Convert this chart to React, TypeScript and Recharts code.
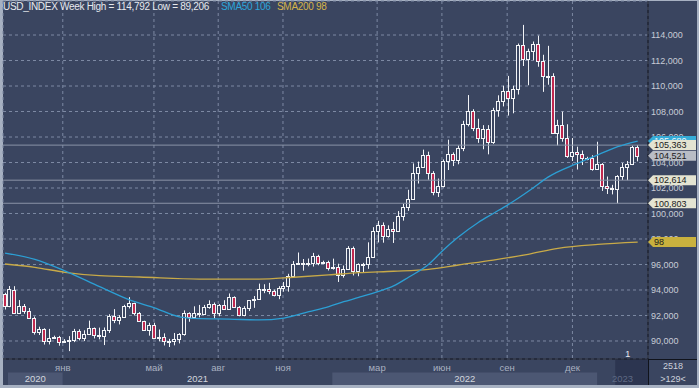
import React from 'react';
import {
  ComposedChart,
  Bar,
  Line,
  XAxis,
  YAxis,
  CartesianGrid,
  ReferenceLine,
  ReferenceArea,
  ReferenceDot,
} from 'recharts';

// ---------- DATA ----------
const barDates = [
  '2020-10-19', '2020-10-26', '2020-11-02', '2020-11-09', '2020-11-16', '2020-11-23', '2020-11-30', '2020-12-07', '2020-12-14', '2020-12-21',
  '2020-12-27', '2020-12-28', '2021-01-03', '2021-01-04', '2021-01-11', '2021-01-18', '2021-01-25', '2021-02-01', '2021-02-08', '2021-02-15',
  '2021-02-22', '2021-03-01', '2021-03-08', '2021-03-15', '2021-03-22', '2021-03-29', '2021-04-05', '2021-04-12', '2021-04-19', '2021-04-26',
  '2021-05-03', '2021-05-10', '2021-05-17', '2021-05-24', '2021-05-31', '2021-06-07', '2021-06-14', '2021-06-21', '2021-06-28', '2021-07-05',
  '2021-07-12', '2021-07-19', '2021-07-26', '2021-08-02', '2021-08-09', '2021-08-16', '2021-08-23', '2021-08-30', '2021-09-06', '2021-09-13',
  '2021-09-20', '2021-09-27', '2021-10-04', '2021-10-11', '2021-10-18', '2021-10-25', '2021-11-01', '2021-11-08', '2021-11-15', '2021-11-22',
  '2021-11-29', '2021-12-06', '2021-12-13', '2021-12-20', '2021-12-26', '2021-12-27', '2022-01-03', '2022-01-10', '2022-01-17', '2022-01-24',
  '2022-01-31', '2022-02-07', '2022-02-14', '2022-02-21', '2022-02-28', '2022-03-07', '2022-03-14', '2022-03-21', '2022-03-28', '2022-04-04',
  '2022-04-11', '2022-04-18', '2022-04-25', '2022-05-02', '2022-05-09', '2022-05-16', '2022-05-23', '2022-05-30', '2022-06-06', '2022-06-13',
  '2022-06-20', '2022-06-27', '2022-07-04', '2022-07-11', '2022-07-18', '2022-07-25', '2022-08-01', '2022-08-08', '2022-08-15', '2022-08-22',
  '2022-08-29', '2022-09-05', '2022-09-12', '2022-09-19', '2022-09-26', '2022-10-03', '2022-10-10', '2022-10-17', '2022-10-24', '2022-10-31',
  '2022-11-07', '2022-11-14', '2022-11-21', '2022-11-28', '2022-12-05', '2022-12-12', '2022-12-19', '2022-12-25', '2022-12-26', '2023-01-02',
  '2023-01-09', '2023-01-16', '2023-01-23', '2023-01-30', '2023-02-06', '2023-02-13', '2023-02-20', '2023-02-27',
];

const barOpen = [
  93.69, 92.77, 94.03, 92.23, 92.76, 92.39, 91.79, 90.70, 90.98, 90.02,
  90.26, 90.31, 89.94, 90.02, 90.10, 90.77, 90.24, 90.58, 91.04, 90.48,
  90.36, 90.88, 91.98, 91.67, 91.92, 92.77, 92.97, 92.17, 91.56, 90.86,
  91.28, 90.23, 90.32, 89.99, 90.03, 90.14, 90.56, 92.23, 91.85, 92.23,
  92.13, 92.69, 92.90, 92.17, 92.80, 92.52, 93.47, 92.67, 92.03, 92.58,
  93.20, 93.30, 94.04, 94.08, 93.96, 93.60, 94.12, 94.32, 95.12, 96.03,
  96.09, 96.15, 96.10, 96.70, 96.15, 96.22, 95.72, 95.80, 95.17, 95.64,
  97.27, 95.47, 96.07, 96.04, 96.62, 98.66, 99.12, 98.24, 98.79, 98.62,
  99.81, 100.52, 101.12, 103.18, 103.66, 104.55, 103.17, 101.67, 102.15, 104.15,
  104.68, 104.21, 105.13, 107.03, 108.07, 106.73, 105.90, 106.61, 105.64, 108.15,
  108.80, 109.62, 109.02, 109.76, 113.19, 112.12, 112.77, 113.31, 111.98, 110.76,
  110.79, 106.29, 106.92, 105.94, 104.52, 104.84, 104.70, 104.32, 104.36, 103.52,
  103.89, 102.19, 102.01, 101.92, 102.92, 103.63, 103.87, 105.21,
];

const barHigh = [
  93.78, 94.31, 94.30, 93.21, 92.90, 92.59, 91.92, 91.12, 91.00, 90.95,
  90.42, 90.40, 90.15, 90.38, 90.95, 90.92, 90.84, 91.60, 91.06, 91.05,
  91.06, 92.10, 92.50, 92.03, 92.84, 93.44, 93.00, 92.27, 91.59, 91.43,
  91.43, 90.90, 90.60, 90.17, 90.63, 90.62, 92.40, 92.25, 92.72, 92.83,
  92.83, 93.19, 93.02, 92.90, 93.20, 93.73, 93.50, 92.74, 92.73, 93.20,
  93.53, 94.50, 94.45, 94.56, 94.03, 94.30, 94.63, 95.27, 96.27, 96.94,
  96.43, 96.47, 96.91, 96.76, 96.30, 96.30, 96.46, 96.06, 95.92, 97.44,
  97.41, 96.09, 96.13, 97.74, 98.93, 99.42, 99.30, 99.07, 99.34, 100.19,
  100.77, 101.86, 103.93, 104.07, 105.01, 104.85, 103.32, 102.74, 104.24, 105.79,
  104.79, 105.34, 107.27, 109.29, 108.18, 107.43, 106.93, 106.93, 108.29, 109.27,
  110.02, 110.79, 110.02, 113.33, 114.792, 112.93, 113.49, 113.95, 112.45, 113.15,
  111.00, 107.35, 107.99, 107.00, 105.92, 105.24, 104.94, 104.45, 104.57, 105.63,
  103.95, 102.90, 102.25, 103.01, 103.96, 104.12, 105.32, 105.363,
];

const barLow = [
  92.47, 92.65, 92.13, 92.13, 92.13, 91.74, 90.50, 90.47, 89.72, 89.73,
  90.20, 89.63, 89.88, 89.206, 89.91, 90.05, 89.99, 90.50, 90.20, 90.13,
  89.68, 90.63, 91.40, 91.30, 91.82, 92.55, 92.00, 91.51, 90.79, 90.42,
  90.22, 89.98, 89.65, 89.53, 89.66, 89.81, 90.42, 91.51, 91.80, 91.86,
  92.07, 92.53, 91.78, 91.94, 92.47, 92.45, 92.63, 91.94, 91.94, 92.35,
  92.60, 93.22, 93.75, 93.67, 93.50, 93.28, 93.87, 93.87, 95.00, 96.00,
  95.52, 95.86, 95.84, 95.94, 96.05, 95.53, 95.60, 94.63, 94.97, 95.60,
  95.14, 95.08, 95.41, 95.66, 96.57, 97.73, 97.71, 98.11, 97.69, 98.60,
  99.44, 100.21, 101.09, 102.35, 103.60, 102.65, 101.43, 101.30, 102.05, 103.41,
  103.72, 103.86, 104.89, 106.83, 106.46, 105.54, 105.04, 104.64, 105.46, 107.59,
  108.40, 107.68, 107.86, 109.33, 111.57, 110.06, 112.03, 111.51, 109.54, 110.10,
  106.27, 105.34, 105.63, 104.37, 104.12, 103.45, 103.80, 104.18, 103.36, 103.42,
  101.77, 101.53, 101.50, 100.803, 102.63, 102.614, 103.80, 104.09,
];

const barClose = [
  92.77, 94.04, 92.23, 92.76, 92.39, 91.79, 90.70, 90.98, 90.02, 90.26,
  90.31, 89.94, 90.02, 90.10, 90.77, 90.24, 90.58, 91.04, 90.48, 90.36,
  90.88, 91.98, 91.67, 91.92, 92.77, 92.97, 92.17, 91.56, 90.86, 91.28,
  90.23, 90.32, 89.99, 90.03, 90.14, 90.56, 92.23, 91.85, 92.23, 92.13,
  92.69, 92.90, 92.17, 92.80, 92.52, 93.47, 92.67, 92.03, 92.58, 93.20,
  93.30, 94.04, 94.08, 93.96, 93.60, 94.12, 94.32, 95.12, 96.03, 96.09,
  96.15, 96.10, 96.70, 96.15, 96.22, 95.72, 95.80, 95.17, 95.64, 97.27,
  95.47, 96.07, 96.04, 96.62, 98.66, 99.12, 98.24, 98.79, 98.62, 99.81,
  100.52, 101.12, 103.18, 103.66, 104.55, 103.17, 101.67, 102.15, 104.15, 104.68,
  104.21, 105.13, 107.03, 108.07, 106.73, 105.90, 106.61, 105.64, 108.15, 108.80,
  109.62, 109.02, 109.76, 113.19, 112.12, 112.77, 113.31, 111.98, 110.76, 110.79,
  106.29, 106.92, 105.94, 104.52, 104.84, 104.70, 104.32, 104.36, 103.52, 103.89,
  102.19, 102.01, 101.92, 102.92, 103.63, 103.87, 105.21, 104.521,
];

// moving averages at sample bars
const sma50Index = [0, 6, 12, 19, 25, 30, 35, 39, 45, 51, 56, 61, 65, 68, 71, 75, 78, 81, 85, 88, 91, 95, 98, 101, 103, 106, 109, 115, 119, 123, 127];
const sma50Value = [96.9, 96.4, 95.5, 94.26, 93.22, 92.6, 91.9, 91.75, 91.72, 91.65, 91.8, 92.3, 92.7, 93.08, 93.42, 93.9, 94.32, 95.0, 96.0, 97.14, 98.15, 99.3, 100.0, 100.7, 101.2, 102.0, 102.85, 103.95, 104.6, 105.24, 105.68];

const sma200Index = [0, 6, 12, 19, 27, 39, 51, 58, 65, 71, 78, 85, 91, 98, 105, 111, 119, 127];
const sma200Value = [96.04, 95.78, 95.39, 95.12, 95.02, 94.86, 94.85, 95.0, 95.18, 95.36, 95.47, 95.62, 95.96, 96.35, 96.8, 97.27, 97.58, 97.76];

const monthTickPos = [11.6, 29.9, 42.8, 55.8, 74.7, 87.7, 100.8, 113.9];
const monthTickLabel = ['янв', 'май', 'авг', 'ноя', 'мар', 'июн', 'сен', 'дек'];

const yearLabels = ['2020', '2021', '2022', '2023'];
const yearFrom = [0.6, 11.57, 65.7, 118.86];
const yearTo = [11.57, 65.7, 118.86, 129.07];
const yearShaded = [true, false, true, false];
const currentMonthFrom = 122.5;

const priceTicks = [90, 92, 94, 96, 98, 100, 102, 104, 106, 108, 110, 112, 114];
const levelLines = [105.363, 102.614, 100.803];
const lastClose = 104.521;
const eventMark = { i: 125, v: 88.96, text: '1' };

// ---------- STYLE ----------
const D0 = -0.4;
const D1 = 129.07;
const Y_MIN = 88.588;
const Y_MAX = 116.667;
const BG = '#3a4560';
const RED = '#c0284f';
const WICK = '#f2f4f7';
const FONT = '"Liberation Sans", Arial, sans-serif';
const SEP = '#10131b';
const MARGIN = { top: 1, right: 2, bottom: 3, left: 3 };

const candles = barDates.map((d, i) => ({
  i,
  date: d,
  o: barOpen[i],
  h: barHigh[i],
  l: barLow[i],
  c: barClose[i],
  range: [barLow[i], barHigh[i]],
}));
const sma50Data = sma50Index.map((i, k) => ({ i, v: sma50Value[k] }));
const sma200Data = sma200Index.map((i, k) => ({ i, v: sma200Value[k] }));

const fmt3 = (v: number) => v.toFixed(3).replace('.', ',');
const maxHigh = Math.max(...barHigh);
const minLow = Math.min(...barLow);
const sma50Last = sma50Value[sma50Value.length - 1];
const sma200Last = sma200Value[sma200Value.length - 1];

const Candle = (props: any) => {
  const { x, y, width, height, payload } = props;
  if (!payload || x == null || y == null) return null;
  const { o, h, l, c } = payload;
  const top = Math.min(y, y + height);
  const bot = Math.max(y, y + height);
  const k = (bot - top) / (h - l || 1);
  const yO = top + (h - o) * k;
  const yC = top + (h - c) * k;
  const cx = Math.round(x + width / 2);
  const up = c >= o;
  const bTop = Math.round(Math.min(yO, yC));
  const bBot = Math.round(Math.max(yO, yC));
  const bh = Math.max(bBot - bTop, 1);
  return (
    <g>
      <line x1={cx + 0.5} x2={cx + 0.5} y1={top} y2={bot} stroke={WICK} strokeWidth={1} />
      <rect x={cx - 1.5} y={bTop + 0.5} width={3} height={bh} fill={up ? BG : RED} stroke={WICK} strokeWidth={1} />
    </g>
  );
};

const makeTag = (text: string, fill: string, color: string) => (props: any) => {
  const vb = props && props.viewBox;
  if (!vb) return null;
  const xr = vb.x + vb.width;
  const yy = vb.y;
  const pts = `${xr},${yy} ${xr + 5},${yy - 5} ${xr + 48},${yy - 5} ${xr + 48},${yy + 5} ${xr + 5},${yy + 5}`;
  return (
    <g>
      <polygon points={pts} fill={fill} />
      <text x={xr + 6} y={yy + 3.3} fontSize={9} fill={color} fontFamily={FONT}>
        {text}
      </text>
    </g>
  );
};

const SharedAxes = ({ visible }: { visible: boolean }) => null;

export default function App() {
  return (
    <div style={{ position: 'absolute', left: 0, top: 0, width: 699, height: 388, background: '#a7b1c2', fontFamily: FONT, overflow: 'hidden' }}>
      <div style={{ position: 'absolute', left: 3, top: 1, width: 694, height: 384, background: BG }} />

      {/* main chart */}
      <div style={{ position: 'absolute', left: 0, top: 0 }}>
        <ComposedChart width={699} height={388} data={candles} margin={MARGIN} style={{ fontFamily: FONT }}>
          <CartesianGrid stroke="#7d89a3" strokeDasharray="3 3" strokeWidth={1} />
          <XAxis
            dataKey="i"
            type="number"
            domain={[D0, D1]}
            allowDataOverflow
            ticks={monthTickPos}
            interval={0}
            tickFormatter={(v: number) => monthTickLabel[monthTickPos.indexOf(v)] ?? ''}
            height={26}
            tickLine={false}
            tickSize={0}
            tickMargin={5}
            axisLine={{ stroke: SEP }}
            tick={{ fill: '#a9b1c1', fontSize: 9.5 }}
          />
          <YAxis
            orientation="right"
            type="number"
            domain={[Y_MIN, Y_MAX]}
            allowDataOverflow
            ticks={priceTicks}
            interval={0}
            width={49}
            tickLine={false}
            tickSize={0}
            tickMargin={3}
            axisLine={{ stroke: SEP }}
            tick={{ fill: '#c7ccd6', fontSize: 9 }}
            tickFormatter={(v: number) => fmt3(v)}
          />
          <YAxis yAxisId="band" hide type="number" domain={[0, 358]} allowDataOverflow />

          {yearLabels.map((yl, k) => (
            <ReferenceArea
              key={yl}
              x1={yearFrom[k]}
              x2={yearTo[k]}
              yAxisId="band"
              y1={-26}
              y2={-13.5}
              ifOverflow="visible"
              fill={yearShaded[k] ? '#4c5773' : 'none'}
              fillOpacity={1}
              stroke="none"
            />
          ))}
          <ReferenceArea
            x1={currentMonthFrom}
            x2={D1}
            yAxisId="band"
            y1={-26}
            y2={-0.5}
            ifOverflow="visible"
            fill="#2c3550"
            fillOpacity={1}
            stroke="none"
          />
          {yearLabels.map((yl, k) => (
            <ReferenceArea
              key={'lbl' + yl}
              x1={yearFrom[k]}
              x2={yearTo[k]}
              yAxisId="band"
              y1={-26}
              y2={-13.5}
              ifOverflow="visible"
              fill="none"
              stroke="none"
              label={{ value: yl, position: 'center', fill: k === 3 ? '#5f6a84' : '#d2d6de', fontSize: 9.5 }}
            />
          ))}

          {levelLines.map((lv) => (
            <ReferenceLine key={lv} y={lv} stroke="#8a93a7" strokeWidth={1} />
          ))}

          <Bar dataKey="range" barSize={4} shape={Candle} isAnimationActive={false} />
          <Line data={sma200Data} dataKey="v" type="monotone" stroke="#c8aa48" strokeWidth={1.3} dot={false} isAnimationActive={false} />
          <Line data={sma50Data} dataKey="v" type="monotone" stroke="#2c9fd4" strokeWidth={1.3} dot={false} isAnimationActive={false} />

          <ReferenceDot
            x={eventMark.i}
            y={eventMark.v}
            r={0}
            fill="none"
            stroke="none"
            label={{ value: eventMark.text, position: 'center', fill: '#e8ebf0', fontSize: 9 }}
          />
        </ComposedChart>
      </div>

      {/* overlay with the same geometry: price tags drawn above the axis labels */}
      <div style={{ position: 'absolute', left: 0, top: 0, pointerEvents: 'none' }}>
        <ComposedChart width={699} height={388} data={candles} margin={MARGIN} style={{ fontFamily: FONT }}>
          <XAxis dataKey="i" type="number" domain={[D0, D1]} allowDataOverflow height={26} tick={false} tickLine={false} axisLine={false} />
          <YAxis orientation="right" type="number" domain={[Y_MIN, Y_MAX]} allowDataOverflow width={49} tick={false} tickLine={false} axisLine={false} />
          <ReferenceLine y={sma50Last} stroke="none" label={makeTag(fmt3(sma50Last), '#35acd8', '#eef6fb')} />
          <ReferenceLine y={levelLines[0]} stroke="none" label={makeTag(fmt3(levelLines[0]), '#e4e4d2', '#1b1b1b')} />
          <ReferenceLine y={lastClose} stroke="none" label={makeTag(fmt3(lastClose), '#b9bdc5', '#1b1b1b')} />
          <ReferenceLine y={levelLines[1]} stroke="none" label={makeTag(fmt3(levelLines[1]), '#e4e4d2', '#1b1b1b')} />
          <ReferenceLine y={levelLines[2]} stroke="none" label={makeTag(fmt3(levelLines[2]), '#e4e4d2', '#1b1b1b')} />
          <ReferenceLine y={sma200Last} stroke="none" label={makeTag(String(Math.round(sma200Last)), '#c9b13e', '#1b1b1b')} />
        </ComposedChart>
      </div>

      {/* header */}
      <div style={{ position: 'absolute', left: 3, top: 1, fontSize: 10, lineHeight: '12px', color: '#e6e9ee', whiteSpace: 'nowrap', letterSpacing: '-0.3px' }}>
        {`USD_INDEX Week High = ${fmt3(maxHigh)} Low = ${fmt3(minLow)}`}
      </div>
      <div style={{ position: 'absolute', left: 221, top: 1, fontSize: 10, lineHeight: '12px', color: '#2ea6db', whiteSpace: 'nowrap', letterSpacing: '-0.3px' }}>
        {`SMA50 ${Math.round(sma50Last)}`}
      </div>
      <div style={{ position: 'absolute', left: 277, top: 1, fontSize: 10, lineHeight: '12px', color: '#d5b34a', whiteSpace: 'nowrap', letterSpacing: '-0.3px' }}>
        {`SMA200 ${Math.round(sma200Last)}`}
      </div>

      {/* bottom-right cell */}
      <div style={{ position: 'absolute', left: 648, top: 359, width: 1, height: 26, background: SEP }} />
      <div style={{ position: 'absolute', left: 648, top: 359, width: 49, height: 1, background: SEP }} />
      <div style={{ position: 'absolute', left: 649, top: 360, width: 48, textAlign: 'center', fontSize: 9, lineHeight: '12px', color: '#cdd2db' }}>
        2518
      </div>
      <div style={{ position: 'absolute', left: 649, top: 373, width: 48, textAlign: 'center', fontSize: 9, lineHeight: '12px', color: '#cdd2db' }}>
        {'>129<'}
      </div>
    </div>
  );
}
